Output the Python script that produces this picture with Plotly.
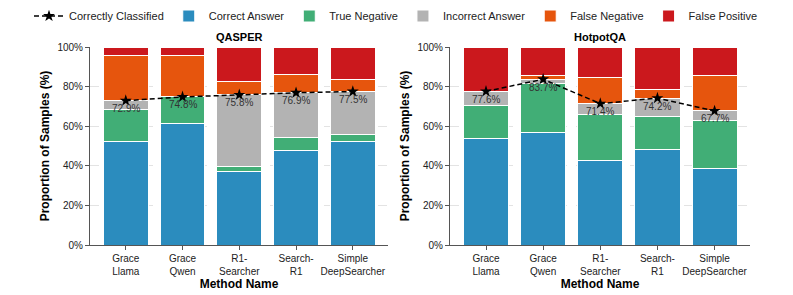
import plotly.graph_objects as go

categories = ["Grace<br>Llama", "Grace<br>Qwen", "R1-<br>Searcher", "Search-<br>R1", "Simple<br>DeepSearcher"]
datasets = ["QASPER", "HotpotQA"]
y_tick_values = [0, 20, 40, 60, 80, 100]
y_tick_labels = ["0%", "20%", "40%", "60%", "80%", "100%"]

# QASPER (%)
qasper_correct_answer = [52.4, 61.2, 37.3, 47.7, 52.3]
qasper_true_negative = [15.9, 13.6, 2.6, 6.4, 3.5]
qasper_incorrect_answer = [4.6, 0.0, 35.9, 22.8, 21.7]
qasper_false_negative = [22.6, 21.0, 6.6, 9.4, 5.9]
qasper_false_positive = [4.5, 4.2, 17.6, 13.7, 16.6]
qasper_correctly_classified = [72.9, 74.8, 75.8, 76.9, 77.5]

# HotpotQA (%)
hotpot_correct_answer = [54.0, 56.7, 42.7, 48.1, 38.5]
hotpot_true_negative = [16.5, 24.9, 23.1, 16.7, 24.2]
hotpot_incorrect_answer = [7.1, 2.1, 5.6, 9.4, 5.0]
hotpot_false_negative = [0.0, 2.0, 13.2, 4.5, 18.1]
hotpot_false_positive = [22.4, 14.3, 15.4, 21.3, 14.2]
hotpot_correctly_classified = [77.6, 83.7, 71.4, 74.2, 67.7]

series_names = ["Correct Answer", "True Negative", "Incorrect Answer", "False Negative", "False Positive"]
series_colors = ["#2b8cbe", "#41ae76", "#b3b3b3", "#e6550d", "#cb181d"]

panel_series = [
    [qasper_correct_answer, qasper_true_negative, qasper_incorrect_answer, qasper_false_negative, qasper_false_positive],
    [hotpot_correct_answer, hotpot_true_negative, hotpot_incorrect_answer, hotpot_false_negative, hotpot_false_positive],
]
panel_line = [qasper_correctly_classified, hotpot_correctly_classified]

FONT = "Arial, 'Liberation Sans', sans-serif"
fig = go.Figure()
annotations = []

for p in range(2):
    xa = "x" if p == 0 else "x2"
    ya = "y" if p == 0 else "y2"
    fig.add_trace(go.Scatter(
        x=categories, y=panel_line[p], mode="lines+markers",
        name="Correctly Classified", legendgroup="cc", showlegend=(p == 0),
        line=dict(color="black", width=1.5, dash="5px,3px"),
        marker=dict(symbol="star", size=9, color="black"),
        xaxis=xa, yaxis=ya,
    ))
    for name, color, vals in zip(series_names, series_colors, panel_series[p]):
        fig.add_trace(go.Bar(
            x=categories, y=vals, name=name, legendgroup=name, showlegend=(p == 0),
            marker=dict(color=color, line=dict(color="white", width=1)),
            xaxis=xa, yaxis=ya,
        ))
    for c, v in zip(categories, panel_line[p]):
        annotations.append(dict(
            x=c, y=v, xref=xa, yref=ya, text=f"{v:.1f}%", showarrow=False,
            xanchor="center", yanchor="middle", yshift=-8,
            font=dict(size=10, color="#333333", family=FONT),
        ))

# page body has an 8px margin, so the figure is 8px smaller than the window
OFF = 8
W, H = 793 - OFF, 295 - OFF
TOP, BOT = 47 - OFF, 245 - OFF
axis_common = dict(
    showline=True, linecolor="#555555", linewidth=1,
    ticks="outside", ticklen=4, tickcolor="#555555",
    tickfont=dict(size=10, color="#222222", family=FONT),
)
xcommon = dict(axis_common, range=[-0.63, 4.62], showgrid=False,
               title=dict(text="<b>Method Name</b>", font=dict(size=12, color="black", family=FONT), standoff=1),
               automargin=False)
ycommon = dict(axis_common, range=[0, 100], tickmode="array", tickvals=y_tick_values, ticktext=y_tick_labels,
               showgrid=True, gridcolor="#e3e3e3", griddash="dash", gridwidth=1, zeroline=False,
               title=dict(text="<b>Proportion of Samples (%)</b>", font=dict(size=12, color="black", family=FONT), standoff=5),
               automargin=False)

L1, R1 = 90 - OFF, 388 - OFF
L2, R2 = 450 - OFF, 750 - OFF
ph = BOT - TOP
for d, x0, x1 in [(datasets[0], L1, R1), (datasets[1], L2, R2)]:
    annotations.append(dict(
        text=f"<b>{d}</b>", x=(x0 + x1) / 2 / W, y=(BOT - (36.5 - OFF)) / ph, xref="paper", yref="paper",
        showarrow=False, xanchor="center", yanchor="middle", font=dict(size=11, color="black", family=FONT)))

fig.update_layout(
    width=W, height=H,
    margin=dict(l=0, r=0, t=TOP, b=H - BOT, autoexpand=False),
    barmode="stack", bargap=0.21,
    plot_bgcolor="white", paper_bgcolor="white",
    font=dict(family=FONT, size=11, color="#222222"),
    xaxis=dict(xcommon, domain=[L1 / W, R1 / W], anchor="y"),
    yaxis=dict(ycommon, domain=[0, 1], anchor="x"),
    xaxis2=dict(xcommon, domain=[L2 / W, R2 / W], anchor="y2"),
    yaxis2=dict(ycommon, domain=[0, 1], anchor="x2"),
    legend=dict(orientation="h", x=(396 - OFF) / W, xanchor="center", xref="container",
                y=1 - (16 - OFF) / H, yanchor="middle", yref="container",
                font=dict(size=11, color="#222222", family=FONT), traceorder="normal",
                bgcolor="rgba(0,0,0,0)"),
    annotations=annotations,
    showlegend=True,
)

fig.write_html("out.html")
